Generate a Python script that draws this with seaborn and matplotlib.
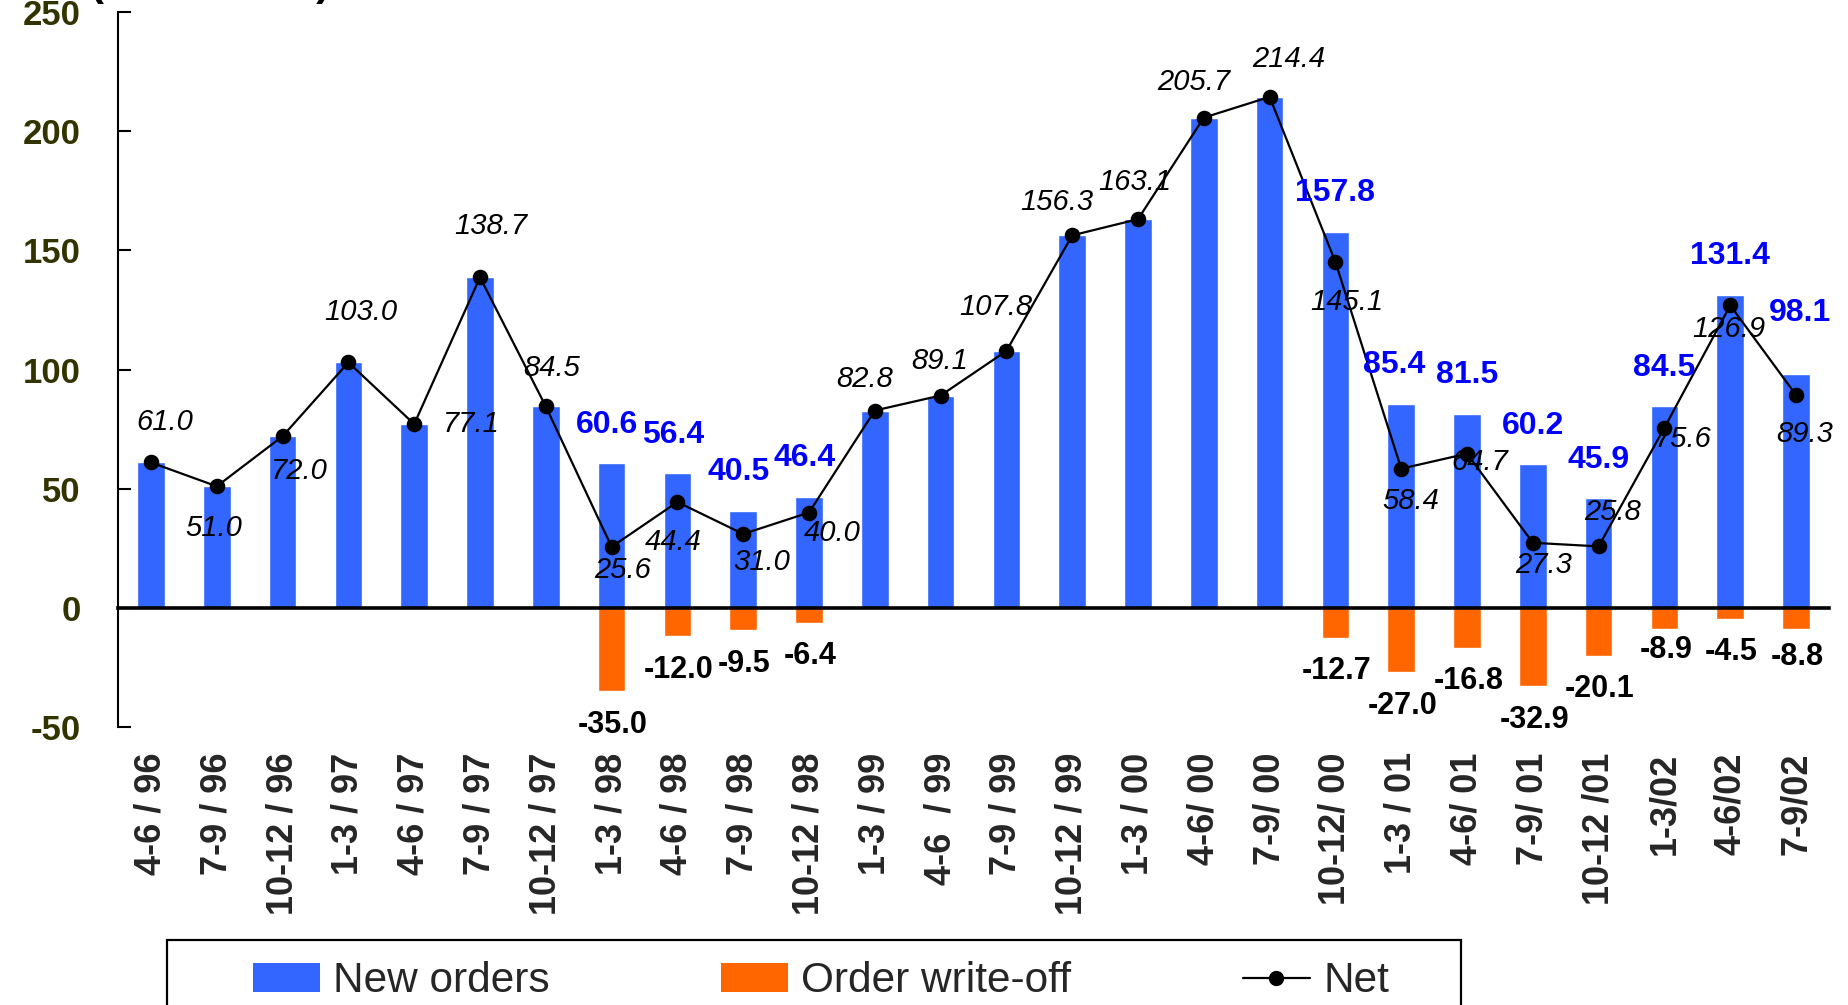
import numpy as np
import pandas as pd
import matplotlib
matplotlib.use("Agg")
import matplotlib.pyplot as plt
from matplotlib.patches import Patch, Rectangle
from matplotlib.lines import Line2D
import seaborn as sns

# ---------------- data ----------------
categories = ["4-6 / 96", "7-9 / 96", "10-12 / 96", "1-3 / 97", "4-6 / 97", "7-9 / 97",
              "10-12 / 97", "1-3 / 98", "4-6 / 98", "7-9 / 98", "10-12 / 98", "1-3 / 99",
              "4-6  / 99", "7-9 / 99", "10-12 / 99", "1-3 / 00", "4-6/ 00", "7-9/ 00",
              "10-12/ 00", "1-3 / 01", "4-6/ 01", "7-9/ 01", "10-12 /01", "1-3/02",
              "4-6/02", "7-9/02"]
new_orders = [61.0, 51.0, 72.0, 103.0, 77.1, 138.7, 84.5, 60.6, 56.4, 40.5, 46.4, 82.8,
              89.1, 107.8, 156.3, 163.1, 205.7, 214.4, 157.8, 85.4, 81.5, 60.2, 45.9,
              84.5, 131.4, 98.1]
write_off = [0, 0, 0, 0, 0, 0, 0, -35.0, -12.0, -9.5, -6.4, 0, 0, 0, 0, 0, 0, 0,
             -12.7, -27.0, -16.8, -32.9, -20.1, -8.9, -4.5, -8.8]
net = [61.0, 51.0, 72.0, 103.0, 77.1, 138.7, 84.5, 25.6, 44.4, 31.0, 40.0, 82.8, 89.1,
       107.8, 156.3, 163.1, 205.7, 214.4, 145.1, 58.4, 64.7, 27.3, 25.8, 75.6, 126.9, 89.3]
y_ticks = [-50, 0, 50, 100, 150, 200, 250]
series_names = ["New orders", "Order write-off", "Net"]
unit_label = "(Billion Yen)"

# ---------------- label offsets (points) ----------------
net_offsets = [(10, 29), (-2, -30), (12, -25), (9, 36), (41, 0), (8, 37), (4, 28),
               (8, -17), (-3, -29), (13, -20), (17, -15), (-7, 23), (-1, 25), (-8, 32),
               (-11, 24), (-2, 27), (-7, 26), (14, 27), (8, -29), (7, -23), (9, -6),
               (8, -16), (10, 25), (14, -8), (-1, -17), (6, -28)]
blue_dx = {7: -3, 8: -3, 9: -3, 10: -3, 19: -5, 25: 3}
blue_dy = {25: 44}
neg_dy = {23: -15, 25: -20}

BLUE = "#3366FF"
ORANGE = "#FF6600"
LABEL_BLUE = "#0000FF"
TICK_OLIVE = "#333300"

sns.set_style("white")
plt.rcParams["font.family"] = ["Liberation Sans", "DejaVu Sans"]

fig = plt.figure(figsize=(18.48, 10.05), dpi=100)
ax = fig.add_axes([0.0639, 0.2766, 0.9258, 0.7114])

df = pd.DataFrame({"period": categories, "new": new_orders, "wo": write_off, "net": net})

sns.barplot(data=df, x="period", y="new", color=BLUE, width=0.42, saturation=1,
            errorbar=None, ax=ax, zorder=1)
sns.barplot(data=df, x="period", y="wo", color=ORANGE, width=0.42, saturation=1,
            errorbar=None, ax=ax, zorder=1)
sns.pointplot(data=df, x="period", y="net", color="black", marker="o", markersize=10,
              linewidth=1.6, errorbar=None, ax=ax, zorder=3)

# ---------------- labels ----------------
for i, v in enumerate(net):
    ax.annotate(f"{v:.1f}", (i, v), xytext=net_offsets[i], textcoords="offset points",
                ha="center", va="center", fontsize=21, fontstyle="italic", color="black",
                zorder=5)
for i, (n, w) in enumerate(zip(new_orders, write_off)):
    if w != 0:
        ax.annotate(f"{n:.1f}", (i, n), xytext=(blue_dx.get(i, 0), blue_dy.get(i, 28)),
                    textcoords="offset points", ha="center", va="center", fontsize=23,
                    fontweight="bold", color=LABEL_BLUE, zorder=5)
        ax.annotate(f"{w:.1f}", (i, w), xytext=(1, neg_dy.get(i, -24)),
                    textcoords="offset points", ha="center", va="center", fontsize=22,
                    fontweight="bold", color="black", zorder=5)

# ---------------- axes styling ----------------
ax.set_xlim(-0.5, len(categories) - 0.5)
ax.set_ylim(-50, 250)
ax.set_xlabel("")
ax.set_ylabel("")
ax.grid(False)
for s in ["top", "right"]:
    ax.spines[s].set_visible(False)
ax.spines["bottom"].set_position(("data", 0))
ax.spines["bottom"].set_linewidth(2.6)
ax.spines["left"].set_linewidth(1.5)
for s in ["bottom", "left"]:
    ax.spines[s].set_color("black")

ax.set_xticks(range(len(categories)))
ax.set_xticklabels(categories, rotation=90, fontsize=26, fontweight="bold")
ax.set_xticks(np.arange(len(categories)) + 0.5, minor=True)
ax.tick_params(axis="x", which="major", length=0, pad=104)
ax.tick_params(axis="x", which="minor", direction="in", length=8.5, width=1.5, color="black")

ax.set_yticks(y_ticks)
ax.set_yticklabels([str(t) for t in y_ticks], fontsize=25, fontweight="bold", color=TICK_OLIVE)
ax.tick_params(axis="y", which="major", direction="in", length=9, width=1.5, pad=27,
               color="black", left=True)

# unit label (mostly cut off at the top edge in the reference)
fig.text(0.0487, 1.0045, unit_label, fontsize=30, fontweight="bold", color="black",
         ha="left", va="baseline")

# ---------------- legend ----------------
handles = [Patch(facecolor=BLUE, edgecolor="none"),
           Patch(facecolor=ORANGE, edgecolor="none"),
           Line2D([], [], color="black", lw=1.6, marker="o", markersize=10)]
fig.legend(handles, series_names, loc="center left", bbox_to_anchor=(0.1369, 0.0236),
           ncol=3, frameon=False, fontsize=30.5, handlelength=1.58, handleheight=0.66,
           handletextpad=0.31, columnspacing=4.05, borderpad=0, borderaxespad=0)
fig.patches.append(Rectangle((0.0904, -0.03), 0.7002, 0.0947, transform=fig.transFigure,
                             fill=False, edgecolor="black", lw=1.6))

fig.savefig("out.png", dpi=100)
